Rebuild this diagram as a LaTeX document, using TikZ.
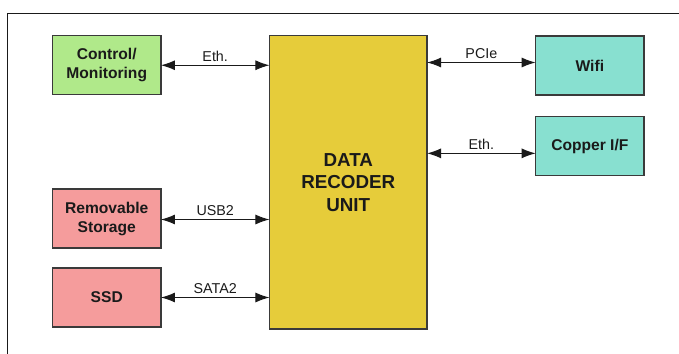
\documentclass[tikz,border=0pt]{standalone}
\usepackage{fontspec}
\setmainfont{Liberation Sans}
\usetikzlibrary{arrows.meta,positioning}
\definecolor{recInk}{HTML}{1A1A1A}
\definecolor{recEdge}{HTML}{3A3A3A}
\definecolor{recGreen}{HTML}{B0E98A}
\definecolor{recYellow}{HTML}{E6CC3A}
\definecolor{recTeal}{HTML}{88E0D0}
\definecolor{recPink}{HTML}{F59C9C}
\tikzset{
  every picture/.style={text=recInk},
  rec box/.style={draw=recEdge, line width=0.6pt, align=center, inner sep=0pt,
    outer sep=0pt, minimum width=54.2pt, minimum height=29.5pt,
    font=\fontsize{7.8}{9.5}\selectfont\bfseries},
  rec unit/.style={rec box, fill=recYellow, minimum width=78.8pt, minimum height=146.8pt,
    font=\fontsize{9.4}{11.2}\selectfont\bfseries},
  rec link/.style={{Latex[length=7pt,width=5pt]}-{Latex[length=7pt,width=5pt]},
    draw=recInk, line width=0.5pt},
  rec label/.style={font=\fontsize{7.15}{8.5}\selectfont, inner sep=1pt, above=0.6pt},
  rec frame/.style={draw=recInk, line width=0.6pt}
}

\begin{document}
\begin{tikzpicture}[x=0.5pt,y=-0.5pt]
  \useasboundingbox (0,0) rectangle (679,353);
  \clip (0,0) rectangle (679,353);
  \draw[rec frame] (679,13.5) -- (7.5,13.5) -- (7.5,360);
  % recorder unit in the middle
  \node[rec unit] (dru) at (348.25,182.25) {DATA\\RECODER\\UNIT};
  % left side
  \node[rec box, fill=recGreen] (ctrl) at (106.75,65.25) {Control/\\Monitoring};
  \node[rec box, fill=recPink] (removable) at (106.75,218.5) {Removable\\Storage};
  \node[rec box, fill=recPink] (ssd) at (106.75,297.5) {SSD};
  % right side
  \node[rec box, fill=recTeal] (wifi) at (589.85,65.5) {Wifi};
  \node[rec box, fill=recTeal] (copper) at (589.85,146.35) {Copper I/F};
  % links
  \draw[rec link] (ctrl.east) -- (ctrl.east -| dru.west) node[rec label, midway] {Eth.};
  \draw[rec link] ([yshift=-0.5pt]removable.east) -- ([yshift=-0.5pt]removable.east -| dru.west) node[rec label, midway] {USB2};
  \draw[rec link] (ssd.east) -- (ssd.east -| dru.west) node[rec label, midway] {SATA2};
  \draw[rec link] ([yshift=1.5pt]wifi.west -| dru.east) -- ([yshift=1.5pt]wifi.west) node[rec label, midway] {PCIe};
  \draw[rec link] ([yshift=-3.5pt]copper.west -| dru.east) -- ([yshift=-3.5pt]copper.west) node[rec label, midway] {Eth.};
\end{tikzpicture}
\end{document}
